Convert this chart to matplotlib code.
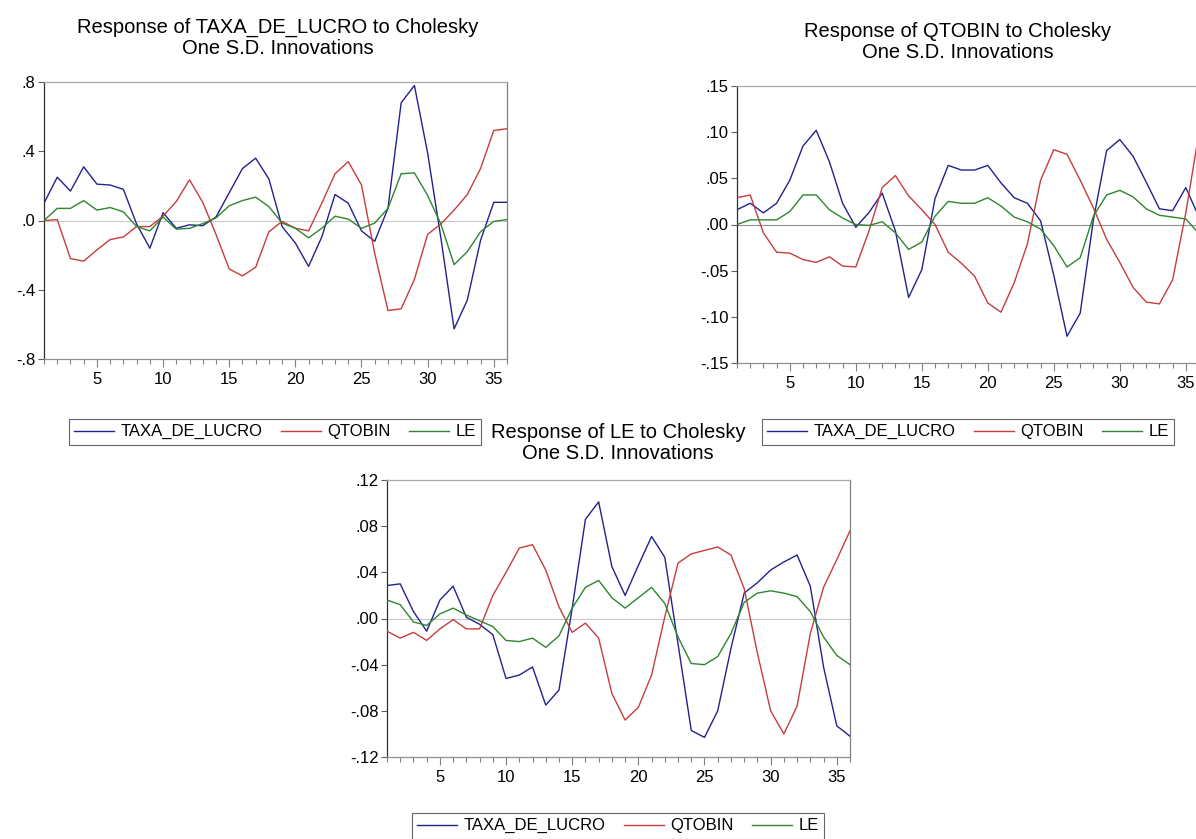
import numpy as np
import matplotlib
matplotlib.use("Agg")
import matplotlib.pyplot as plt
from matplotlib.ticker import MultipleLocator, FixedLocator

plt.rcParams['font.family'] = ['Liberation Sans', 'DejaVu Sans']

# impulse responses, periods 1..36
periods = np.arange(1, 37)

# response of TAXA_DE_LUCRO
taxa_taxa = [0.10, 0.25, 0.17, 0.31, 0.21, 0.205, 0.18, -0.02, -0.16, 0.045,
             -0.045, -0.025, -0.03, 0.02, 0.16, 0.30, 0.36, 0.24, -0.035, -0.13,
             -0.265, -0.095, 0.15, 0.10, -0.06, -0.12, 0.07, 0.68, 0.78, 0.39,
             -0.10, -0.626, -0.46, -0.115, 0.105, 0.105]
taxa_qtobin = [0.0, 0.005, -0.22, -0.235, -0.17, -0.11, -0.095, -0.035, -0.035, 0.025,
               0.11, 0.235, 0.105, -0.08, -0.28, -0.32, -0.27, -0.065, -0.005, -0.045,
               -0.06, 0.10, 0.27, 0.34, 0.205, -0.19, -0.52, -0.51, -0.34, -0.08,
               -0.02, 0.06, 0.15, 0.30, 0.52, 0.53]
taxa_le = [0.0, 0.07, 0.07, 0.115, 0.06, 0.075, 0.05, -0.035, -0.06, 0.02,
           -0.05, -0.045, -0.018, 0.015, 0.085, 0.115, 0.135, 0.08, -0.015, -0.045,
           -0.10, -0.045, 0.025, 0.008, -0.045, -0.015, 0.07, 0.27, 0.275, 0.145,
           -0.02, -0.255, -0.18, -0.065, -0.005, 0.005]

# response of QTOBIN
qtob_taxa = [0.016, 0.023, 0.0126, 0.023, 0.048, 0.085, 0.102, 0.068, 0.023, -0.003,
             0.013, 0.034, -0.007, -0.079, -0.049, 0.028, 0.064, 0.059, 0.059, 0.064,
             0.045, 0.029, 0.023, 0.004, -0.055, -0.121, -0.096, 0.005, 0.080, 0.092,
             0.074, 0.046, 0.017, 0.015, 0.040, 0.008]
qtob_qtobin = [0.029, 0.032, -0.009, -0.030, -0.031, -0.038, -0.041, -0.035, -0.045, -0.046,
               -0.007, 0.040, 0.053, 0.031, 0.016, 0.0, -0.030, -0.042, -0.056, -0.085,
               -0.095, -0.063, -0.021, 0.048, 0.081, 0.076, 0.048, 0.018, -0.016, -0.041,
               -0.068, -0.084, -0.086, -0.060, 0.0125, 0.10]
qtob_le = [0.0, 0.005, 0.005, 0.005, 0.014, 0.032, 0.032, 0.016, 0.007, 0.0,
           -0.001, 0.003, -0.009, -0.027, -0.019, 0.009, 0.025, 0.023, 0.023, 0.029,
           0.020, 0.008, 0.003, -0.005, -0.023, -0.046, -0.036, 0.009, 0.032, 0.037,
           0.030, 0.017, 0.010, 0.008, 0.006, -0.010]

# response of LE
le_taxa = [0.0286, 0.030, 0.006, -0.011, 0.016, 0.028, 0.001, -0.005, -0.014, -0.052,
           -0.049, -0.042, -0.075, -0.062, 0.009, 0.086, 0.101, 0.045, 0.020, 0.046,
           0.071, 0.053, -0.022, -0.097, -0.103, -0.080, -0.026, 0.022, 0.031, 0.042,
           0.049, 0.055, 0.028, -0.042, -0.093, -0.102]
le_qtobin = [-0.011, -0.017, -0.012, -0.019, -0.009, -0.001, -0.009, -0.009, 0.020, 0.040,
             0.061, 0.064, 0.042, 0.010, -0.012, -0.004, -0.017, -0.065, -0.088, -0.077,
             -0.049, 0.0015, 0.048, 0.056, 0.059, 0.062, 0.055, 0.026, -0.030, -0.080,
             -0.100, -0.076, -0.013, 0.027, 0.051, 0.076]
le_le = [0.016, 0.012, -0.003, -0.006, 0.004, 0.009, 0.003, -0.002, -0.007, -0.019,
         -0.020, -0.017, -0.025, -0.015, 0.009, 0.027, 0.033, 0.018, 0.009, 0.018,
         0.027, 0.013, -0.016, -0.039, -0.040, -0.033, -0.013, 0.014, 0.022, 0.024,
         0.022, 0.019, 0.006, -0.016, -0.032, -0.040]

series_names = ['TAXA_DE_LUCRO', 'QTOBIN', 'LE']
colors = ['#22228c', '#c83c3c', '#2e862e']

yticks_taxa = [-0.8, -0.4, 0.0, 0.4, 0.8]
ylabels_taxa = ['-.8', '-.4', '.0', '.4', '.8']
yticks_qtob = [-0.15, -0.10, -0.05, 0.0, 0.05, 0.10, 0.15]
ylabels_qtob = ['-.15', '-.10', '-.05', '.00', '.05', '.10', '.15']
yticks_le = [-0.12, -0.08, -0.04, 0.0, 0.04, 0.08, 0.12]
ylabels_le = ['-.12', '-.08', '-.04', '.00', '.04', '.08', '.12']

FS = 12
TFS = 14.5
W, H = 1196, 839
fig = plt.figure(figsize=(W / 100, H / 100), dpi=100)


def px_axes(l, t, r, b):
    return fig.add_axes([l / W, 1 - b / H, (r - l) / W, (b - t) / H])


def draw_panel(ax, data, yt, yl, zero_col):
    ax.axhline(0, color=zero_col, lw=0.8, zorder=1)
    for vals, c, nm in zip(data, colors, series_names):
        ax.plot(periods, vals, color=c, lw=1.0, label=nm, zorder=3)
    ax.set_xlim(1, 36)
    ax.set_ylim(yt[0], yt[-1])
    ax.set_yticks(yt)
    ax.set_yticklabels(yl, fontsize=FS)
    ax.xaxis.set_major_locator(FixedLocator([5, 10, 15, 20, 25, 30, 35]))
    ax.xaxis.set_minor_locator(MultipleLocator(1))
    ax.tick_params(axis='x', which='major', length=6, width=0.8, color='#808080',
                   labelsize=FS, pad=3)
    ax.tick_params(axis='x', which='minor', length=3.5, width=0.8, color='#808080')
    ax.tick_params(axis='y', length=4, width=0.8, color='#606060', pad=2)
    ax.spines['left'].set_color('#303030')
    ax.spines['bottom'].set_color('#909090')
    ax.spines['top'].set_color('#a8a8a8')
    ax.spines['right'].set_color('#808080')
    for s in ax.spines.values():
        s.set_linewidth(0.9)


def add_legend(ax, left, top):
    leg = ax.legend(loc='upper left', bbox_to_anchor=(left / W, 1 - top / H),
                    bbox_transform=fig.transFigure, ncol=3, fontsize=FS,
                    frameon=True, fancybox=False, edgecolor='#404040',
                    handlelength=2.4, handletextpad=0.38, columnspacing=1.1,
                    borderpad=0.32, borderaxespad=0)
    leg.get_frame().set_linewidth(0.8)


ax1 = px_axes(44, 82, 507, 359)
draw_panel(ax1, [taxa_taxa, taxa_qtobin, taxa_le], yticks_taxa, ylabels_taxa, '#c8c8c8')
add_legend(ax1, 69, 419)
fig.text(278 / W, 1 - 38 / H, 'Response of TAXA_DE_LUCRO to Cholesky\nOne S.D. Innovations',
         ha='center', va='center', fontsize=TFS, linespacing=1.12)

ax2 = px_axes(737, 86, 1199, 363)
draw_panel(ax2, [qtob_taxa, qtob_qtobin, qtob_le], yticks_qtob, ylabels_qtob, '#909090')
add_legend(ax2, 762, 419)
fig.text(958 / W, 1 - 42 / H, 'Response of QTOBIN to Cholesky\nOne S.D. Innovations',
         ha='center', va='center', fontsize=TFS, linespacing=1.12)

ax3 = px_axes(387, 480, 850, 757)
draw_panel(ax3, [le_taxa, le_qtobin, le_le], yticks_le, ylabels_le, '#c8c8c8')
add_legend(ax3, 412, 813)
fig.text(618 / W, 1 - 443 / H, 'Response of LE to Cholesky\nOne S.D. Innovations',
         ha='center', va='center', fontsize=TFS, linespacing=1.12)

fig.savefig('out.png', dpi=100, facecolor='white')
